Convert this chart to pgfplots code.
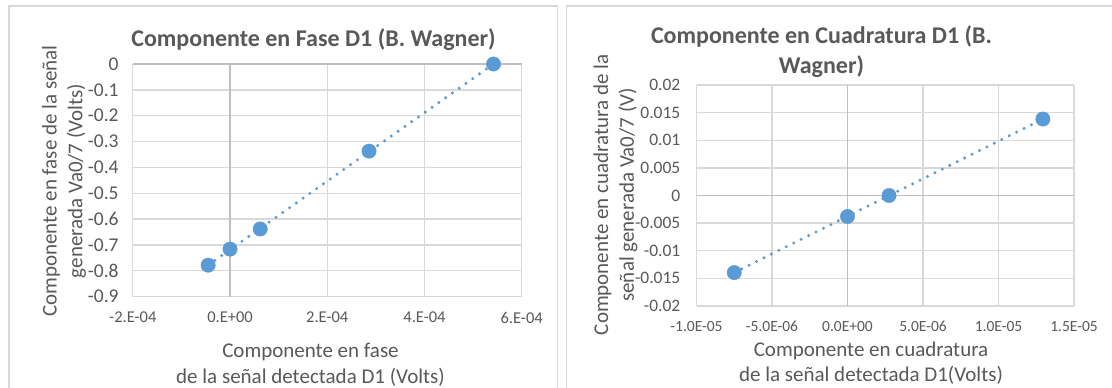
\documentclass[border=0pt]{standalone}
\usepackage{fontspec}
\setmainfont{Carlito}
\usepackage{pgfplots}
\usepackage{pgfplotstable}
\pgfplotsset{compat=1.18}
\definecolor{mk}{HTML}{5B9BD5}
\definecolor{grd}{HTML}{D9D9D9}
\definecolor{zer}{HTML}{BFBFBF}
\definecolor{txt}{HTML}{595959}

\pgfplotstableread{
x y
-4.5e-5 -0.778
0 -0.716
6.2e-5 -0.638
2.86e-4 -0.337
5.42e-4 0
}\fase
\pgfplotstableread{
x y
-7.5e-6 -0.01395
0 -0.0038
2.75e-6 0
1.294e-5 0.01384
}\cuad

\pgfplotsset{my/.style={
  scale only axis, axis line style={draw=none},
  grid=major, major grid style={color=grd, line width=1.3pt},
  major tick length=0pt, tick style={draw=none},
  scaled ticks=false,
  extra x tick style={major grid style={color=zer, line width=1.3pt}},
  extra y tick style={major grid style={color=zer, line width=1.3pt}},
  clip=false,
}}
\tikzset{
  ttl/.style={font=\fontsize{24}{29.3}\selectfont\bfseries, text=txt, inner sep=0pt, align=center},
  atl/.style={font=\fontsize{21}{25.6}\selectfont, text=txt, inner sep=0pt, align=center},
  trend/.style={mk, line width=3.3pt, dash pattern=on 0pt off 8.3pt, line cap=round},
  pts/.style={only marks, mark=*, mark size=7.2pt, color=mk, mark options={draw=mk, fill=mk}},
}

\begin{document}
\begin{tikzpicture}[x=1pt,y=1pt]
\useasboundingbox (0,0) rectangle (1112,388);
\fill[white] (0,0) rectangle (1112,388);
\draw[grd, line width=1.2pt] (9,382) rectangle (557.5,-20);
\draw[grd, line width=1.2pt] (566.5,382) rectangle (1130,-20);

\begin{axis}[my, at={(132.8pt,91.3pt)}, anchor=south west,
  width=388.9pt, height=232.7pt,
  xmin=-2e-4, xmax=6e-4, ymin=-0.9, ymax=0,
  xticklabel style={font=\fontsize{16.5}{19}\selectfont, text=txt, inner sep=0pt, anchor=center, yshift=-21pt},
  yticklabel style={font=\fontsize{19.5}{22}\selectfont, text=txt, inner sep=0pt, anchor=east, xshift=-14pt},
  xtick={-2e-4,2e-4,4e-4,6e-4}, xticklabels={-2.E-04,2.E-04,4.E-04,6.E-04},
  extra x ticks={0}, extra x tick labels={0.E+00},
  ytick={-0.9,-0.8,-0.7,-0.6,-0.5,-0.4,-0.3,-0.2,-0.1},
  yticklabels={-0.9,-0.8,-0.7,-0.6,-0.5,-0.4,-0.3,-0.2,-0.1},
  extra y ticks={0}, extra y tick labels={0},
]
\addplot[trend, forget plot] coordinates {(-4.5e-5,-0.778) (5.42e-4,0)};
\addplot[pts] table {\fase};
\end{axis}

\begin{axis}[my, at={(696.5pt,82pt)}, anchor=south west,
  width=377.5pt, height=221pt,
  xmin=-1e-5, xmax=1.5e-5, ymin=-0.02, ymax=0.02,
  xticklabel style={font=\fontsize{15.5}{18}\selectfont, text=txt, inner sep=0pt, anchor=center, yshift=-20.7pt},
  yticklabel style={font=\fontsize{17.5}{20}\selectfont, text=txt, inner sep=0pt, anchor=east, xshift=-16pt},
  xtick={-1e-5,-5e-6,5e-6,1e-5,1.5e-5},
  xticklabels={-1.0E-05,-5.0E-06,5.0E-06,1.0E-05,1.5E-05},
  extra x ticks={0}, extra x tick labels={0.0E+00},
  ytick={-0.02,-0.015,-0.01,-0.005,0.005,0.01,0.015,0.02},
  yticklabels={-0.02,-0.015,-0.01,-0.005,0.005,0.01,0.015,0.02},
  extra y ticks={0}, extra y tick labels={0},
]
\addplot[trend, forget plot] coordinates {(-7.5e-6,-0.01396) (1.294e-5,0.01384)};
\addplot[pts] table {\cuad};
\end{axis}

\node[ttl] at (313.5,348) {Componente en Fase D1 (B. Wagner)};
\node[ttl] at (821.5,336.3) {Componente en Cuadratura D1 (B.\\Wagner)};
\node[atl] at (310.5,23.5) {Componente en fase\\de la señal detectada D1 (Volts)};
\node[atl] at (871,25) {Componente en cuadratura\\de la señal detectada D1(Volts)};
\node[atl, rotate=90] at (64,207) {Componente en fase de la señal\\generada Va0/7 (Volts)};
\node[atl, rotate=90] at (615.5,193) {Componente en cuadratura de la\\señal generada Va0/7 (V)};
\end{tikzpicture}
\end{document}
